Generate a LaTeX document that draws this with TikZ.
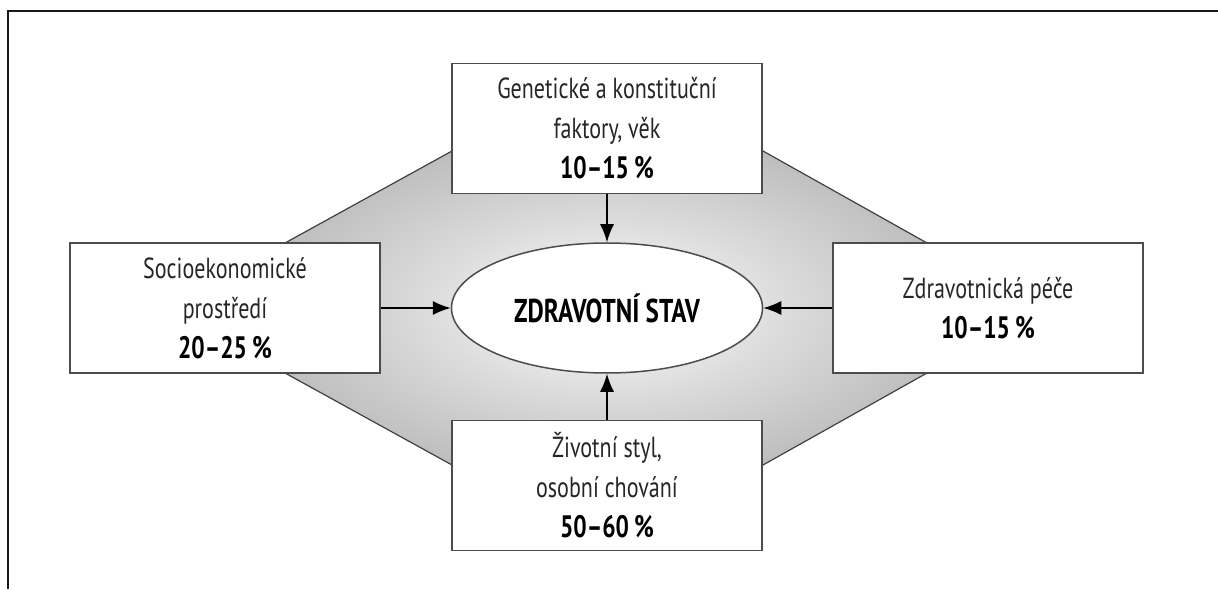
\documentclass[tikz,border=0pt]{standalone}
\usepackage{fontspec}
\setmainfont{PT Sans}[FakeStretch=0.76]
\usetikzlibrary{arrows.meta,positioning,shapes.geometric}
\pgfdeclareradialshading{hubshade}{\pgfpoint{0bp}{0bp}}{%
  color(0bp)=(white); color(14bp)=(black!14); color(30bp)=(black!28);
  color(50bp)=(black!55); color(70bp)=(black!60)}

\begin{document}
\begin{tikzpicture}[
  x=0.5pt, y=0.5pt,
  factor/.style={draw=black!70, line width=0.75pt, fill=white, align=center, text=black!85,
    minimum width=155pt, minimum height=65pt, inner sep=0pt, font=\fontsize{14.5}{20}\selectfont},
  hub/.style={ellipse, draw=black!70, line width=0.75pt, fill=white, inner sep=0pt,
    minimum width=155.5pt, minimum height=65pt, font=\fontsize{16.5}{20}\selectfont\bfseries},
  arrow/.style={-{Latex[length=9pt,width=7pt]}, line width=0.75pt}
]
\useasboundingbox (0,0) rectangle (1218,589);
\draw[line width=1pt, black!90] (8,0) -- (8,578) -- (1218,578);

% shaded background behind the boxes
\shade[shading=hubshade, draw=black!75, line width=0.6pt]
  (285,346) -- (452,438) -- (763,438) -- (927,346) -- (927,216) -- (763,124) -- (452,124) -- (285,216) -- cycle;

\node[hub] (stav) at (607,281) {ZDRAVOTNÍ STAV};
\node[factor, above=24pt of stav] (gen) {Genetické a konstituční\\faktory, věk\\{\fontsize{15.5}{20}\selectfont\bfseries\color{black}10--15\,\%}};
\node[factor, left=35pt of stav] (socio) {Socioekonomické\\prostředí\\{\fontsize{15.5}{20}\selectfont\bfseries\color{black}20--25\,\%}};
\node[factor, right=34.5pt of stav] (pece) {Zdravotnická péče\\{\fontsize{15.5}{20}\selectfont\bfseries\color{black}10--15\,\%}};
\node[factor, below=23pt of stav] (styl) {Životní styl,\\osobní chování\\{\fontsize{15.5}{20}\selectfont\bfseries\color{black}50--60\,\%}};

\draw[arrow] (gen) -- (stav);
\draw[arrow] (socio) -- (stav);
\draw[arrow] (pece) -- (stav);
\draw[arrow] (styl) -- (stav);

\end{tikzpicture}
\end{document}
